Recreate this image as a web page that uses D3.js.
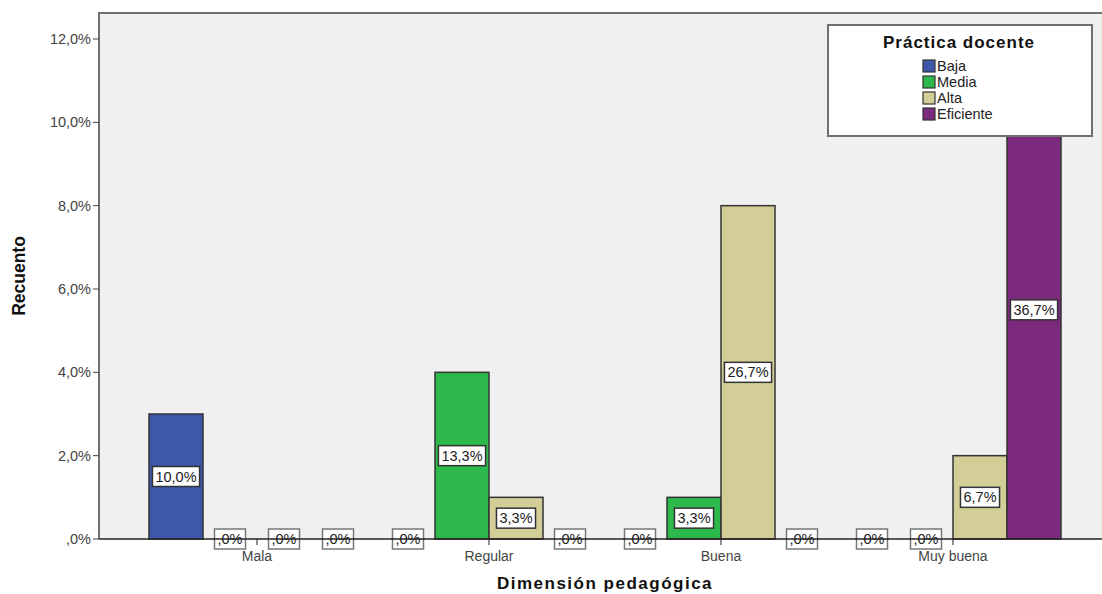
<!DOCTYPE html>
<html>
<head>
<meta charset="utf-8">
<script src="https://cdn.jsdelivr.net/npm/d3@7"></script>
<style>
  body { margin: 0; background: #fff; }
  svg { display: block; font-family: "Liberation Sans", Arial, sans-serif; }
</style>
</head>
<body>
<svg id="chart" width="1102" height="594"></svg>
<script>
// categories + series
var categories = ["Mala", "Regular", "Buena", "Muy buena"];
var series = ["Baja", "Media", "Alta", "Eficiente"];
var colors = ["#3d57ab", "#2cb84a", "#d3ce98", "#7b2a7d"];
// counts per category (rows) x series (cols)
var counts = [
  [3, 0, 0, 0],
  [0, 4, 1, 0],
  [0, 1, 8, 0],
  [0, 0, 2, 11]
];
var pctLabels = [
  ["10,0%", ",0%", ",0%", ",0%"],
  [",0%", "13,3%", "3,3%", ",0%"],
  [",0%", "3,3%", "26,7%", ",0%"],
  [",0%", ",0%", "6,7%", "36,7%"]
];
var yTicks = [0, 2, 4, 6, 8, 10, 12];
var yTickLabels = [",0%", "2,0%", "4,0%", "6,0%", "8,0%", "10,0%", "12,0%"];

var svg = d3.select("#chart");
var pLeft = 99, pTop = 13, pRight = 1102, pBottom = 539;

var pad = 16 / 232;
var x = d3.scaleBand().domain(categories).range([141, 1069]).paddingInner(pad).paddingOuter(pad / 2);
var xs = d3.scaleBand().domain(series).range([0, x.bandwidth()]);
var y = d3.scaleLinear().domain([0, 12]).range([pBottom, 39]);

// plot background + frame
svg.append("rect").attr("x", pLeft).attr("y", pTop).attr("width", pRight - pLeft + 2).attr("height", pBottom - pTop)
  .attr("fill", "#f0f0f0");
svg.append("path").attr("d", "M" + pLeft + "," + pBottom + "V" + pTop + "H" + (pRight + 2))
  .attr("fill", "none").attr("stroke", "#707070").attr("stroke-width", 2);

// bars
var groups = svg.append("g").selectAll("g").data(categories).enter().append("g")
  .attr("transform", function(c) { return "translate(" + x(c) + ",0)"; });

groups.each(function(c, i) {
  var g = d3.select(this);
  series.forEach(function(s, j) {
    var v = counts[i][j];
    if (v > 0) {
      g.append("rect")
        .attr("x", xs(s)).attr("y", y(v))
        .attr("width", xs.bandwidth()).attr("height", y(0) - y(v))
        .attr("fill", colors[j]).attr("stroke", "#333").attr("stroke-width", 1.5);
    }
  });
});

// x axis line
svg.append("line").attr("x1", pLeft).attr("x2", pRight).attr("y1", pBottom).attr("y2", pBottom)
  .attr("stroke", "#222").attr("stroke-width", 1.3);

// value labels
groups.each(function(c, i) {
  var g = d3.select(this);
  series.forEach(function(s, j) {
    var v = counts[i][j];
    var cx = xs(s) + xs.bandwidth() / 2;
    var cy = (y(0) + y(v)) / 2;
    var txt = pctLabels[i][j];
    var lab = g.append("g").attr("transform", "translate(" + cx + "," + cy + ")");
    var t = lab.append("text").attr("text-anchor", "middle").attr("dy", "0.35em")
      .attr("font-size", 14.5).attr("fill", "#222").text(txt);
    var w = t.node().getComputedTextLength() + 6;
    lab.insert("rect", "text").attr("x", -w / 2).attr("y", -10).attr("width", w).attr("height", 20)
      .attr("fill", "#fff").attr("stroke", v > 0 ? "#333" : "#777").attr("stroke-width", 1.5);
  });
});

// category ticks + labels
var xAxis = svg.append("g");
categories.forEach(function(c) {
  var cx = x(c) + x.bandwidth() / 2;
  xAxis.append("line").attr("x1", cx).attr("x2", cx).attr("y1", pBottom).attr("y2", pBottom + 6)
    .attr("stroke", "#222");
  xAxis.append("text").attr("x", cx).attr("y", pBottom + 22).attr("text-anchor", "middle")
    .attr("font-size", 14).attr("fill", "#444").text(c);
});

// y axis ticks
var yAxis = svg.append("g");
yTicks.forEach(function(t, k) {
  yAxis.append("line").attr("x1", pLeft - 6).attr("x2", pLeft).attr("y1", y(t)).attr("y2", y(t))
    .attr("stroke", "#444");
  yAxis.append("text").attr("x", pLeft - 8).attr("y", y(t)).attr("dy", "0.35em").attr("text-anchor", "end")
    .attr("font-size", 14.5).attr("fill", "#444").text(yTickLabels[k]);
});

// axis titles
svg.append("text").attr("transform", "translate(25,276) rotate(-90)").attr("text-anchor", "middle")
  .attr("font-size", 17.5).attr("font-weight", "bold").attr("fill", "#111").text("Recuento");
svg.append("text").attr("x", 605).attr("y", 589).attr("text-anchor", "middle")
  .attr("font-size", 17).attr("font-weight", "bold").attr("letter-spacing", 1.5).attr("fill", "#111")
  .text("Dimensión pedagógica");

// legend
var lg = svg.append("g").attr("transform", "translate(828,25)");
lg.append("rect").attr("width", 264).attr("height", 111).attr("fill", "#fff")
  .attr("stroke", "#707070").attr("stroke-width", 2);
lg.append("text").attr("x", 131).attr("y", 23).attr("text-anchor", "middle")
  .attr("font-size", 17).attr("font-weight", "bold").attr("letter-spacing", 1).attr("fill", "#111")
  .text("Práctica docente");
series.forEach(function(s, j) {
  var ry = 35 + j * 16;
  lg.append("rect").attr("x", 95).attr("y", ry).attr("width", 12).attr("height", 12)
    .attr("fill", colors[j]).attr("stroke", "#333").attr("stroke-width", 1.2);
  lg.append("text").attr("x", 109).attr("y", ry + 6).attr("dy", "0.35em")
    .attr("font-size", 14.5).attr("fill", "#222").text(s);
});
</script>
</body>
</html>
